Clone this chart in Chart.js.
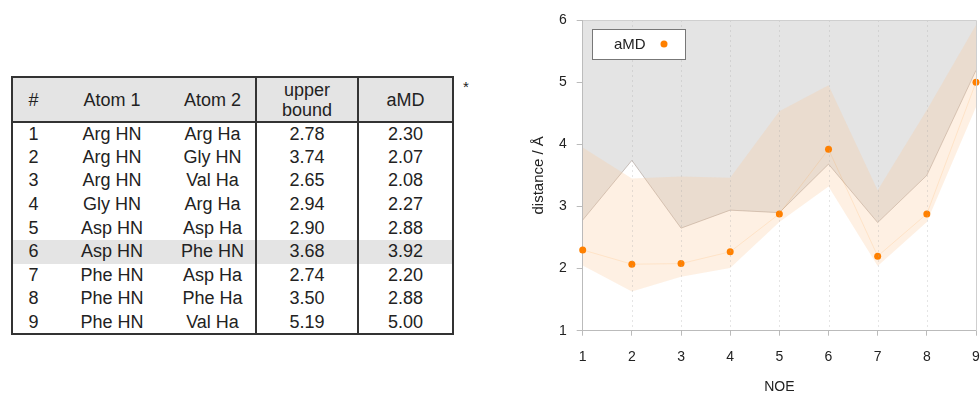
<!DOCTYPE html>
<html>
<head>
<meta charset="utf-8">
<script src="https://cdn.jsdelivr.net/npm/chart.js@4.4.1/dist/chart.umd.min.js"></script>
<style>
  html, body { margin: 0; padding: 0; background: #fff; }
  body { width: 980px; height: 396px; position: relative; overflow: hidden;
         font-family: "Liberation Sans", Arial, sans-serif; color: #222; }
  #noeTable { position: absolute; left: 11px; top: 76px; border-collapse: collapse;
              table-layout: fixed; width: 441px; font-size: 18px; border: 2px solid #333; }
  #noeTable td, #noeTable th { padding: 0; text-align: center; font-weight: normal; }
  #noeTable thead tr { height: 45px; background: #e4e4e4; border-bottom: 2px solid #333; }
  #noeTable thead th { line-height: 20px; }
  #noeTable tbody tr { height: 23.6px; }
  #noeTable tbody td { line-height: 21px; }
  #noeTable .sep { border-left: 2px solid #333; }
  #noeTable tr.hl { background: #e4e4e4; }
  #star { position: absolute; left: 463px; top: 78px; width: 10px; font-size: 15px; }
  #wrap { position: absolute; left: 500px; top: 0; width: 480px; height: 396px; }
</style>
</head>
<body>
<table id="noeTable">
  <colgroup>
    <col style="width:42px"><col style="width:116px"><col style="width:86px">
    <col style="width:102px"><col style="width:95px">
  </colgroup>
  <thead><tr><th>#</th><th>Atom 1</th><th>Atom 2</th><th class="sep">upper<br>bound</th><th class="sep">aMD</th></tr></thead>
  <tbody id="rows"></tbody>
</table>
<div id="star">*</div>
<div id="wrap"><canvas id="noe"></canvas></div>
<script>
const noe = [1, 2, 3, 4, 5, 6, 7, 8, 9];
const atom1 = ['Arg HN', 'Arg HN', 'Arg HN', 'Gly HN', 'Asp HN', 'Asp HN', 'Phe HN', 'Phe HN', 'Phe HN'];
const atom2 = ['Arg Ha', 'Gly HN', 'Val Ha', 'Arg Ha', 'Asp Ha', 'Phe HN', 'Asp Ha', 'Phe Ha', 'Val Ha'];
const upperBound = [2.78, 3.74, 2.65, 2.94, 2.90, 3.68, 2.74, 3.50, 5.19];
const amd = [2.30, 2.07, 2.08, 2.27, 2.88, 3.92, 2.20, 2.88, 5.00];
// spread of the aMD distances
const bandHigh = [3.95, 3.45, 3.48, 3.46, 4.53, 4.95, 3.26, 4.55, 5.92];
const bandLow = [2.05, 1.63, 1.87, 2.01, 2.75, 3.32, 2.04, 2.75, 4.60];
const highlightRow = 6;

// table
const tbody = document.getElementById('rows')
noe.forEach((n, i) => {
  const tr = document.createElement('tr')
  if (n === highlightRow) tr.className = 'hl'
  tr.innerHTML = '<td>' + n + '</td><td>' + atom1[i] + '</td><td>' + atom2[i] + '</td>' +
    '<td class="sep">' + upperBound[i].toFixed(2) + '</td><td class="sep">' + amd[i].toFixed(2) + '</td>'
  tbody.appendChild(tr)
})

const pts = arr => noe.map((x, i) => ({ x: x, y: arr[i] }))
const orange = '#ff8000'
const font = { size: 14, family: '"Liberation Sans", Arial' }

// plot box edges taken from the scales themselves
function plotBox(chart) {
  const xs = chart.scales.x, ys = chart.scales.y
  return {
    left: Math.round(xs.getPixelForValue(noe[0])),
    right: Math.round(xs.getPixelForValue(noe[noe.length - 1])),
    top: Math.round(ys.getPixelForValue(ys.max)),
    bottom: Math.round(ys.getPixelForValue(ys.min)),
  }
}

// faint dotted verticals at each NOE, plus the top and right edges of the box
const frame = {
  id: 'frame',
  afterDatasetsDraw(chart) {
    const { ctx } = chart
    const b = plotBox(chart)
    const xs = chart.scales.x
    ctx.save()
    ctx.lineWidth = 1
    ctx.strokeStyle = 'rgba(170,170,170,0.3)'
    ctx.setLineDash([2, 3])
    noe.slice(1, -1).forEach(v => {
      const px = Math.round(xs.getPixelForValue(v)) + 0.5
      ctx.beginPath()
      ctx.moveTo(px, b.top)
      ctx.lineTo(px, b.bottom)
      ctx.stroke()
    })
    ctx.setLineDash([])
    ctx.strokeStyle = '#cfcfcf'
    ctx.beginPath()
    ctx.moveTo(b.left, b.top + 0.5)
    ctx.lineTo(b.right + 0.5, b.top + 0.5)
    ctx.lineTo(b.right + 0.5, b.bottom)
    ctx.stroke()
    ctx.restore()
  }
}

// legend box drawn inside the plot, text first then the dot
const boxLegend = {
  id: 'boxLegend',
  afterDatasetsDraw(chart) {
    const { ctx } = chart
    const b = plotBox(chart)
    const x = b.left + 9, y = b.top + 9
    ctx.save()
    ctx.fillStyle = '#fff'
    ctx.fillRect(x, y, 93, 30)
    ctx.strokeStyle = '#777'
    ctx.lineWidth = 1
    ctx.strokeRect(x + 0.5, y + 0.5, 93, 30)
    ctx.fillStyle = '#222'
    ctx.font = '15px "Liberation Sans", Arial, sans-serif'
    ctx.textBaseline = 'middle'
    ctx.fillText(chart.data.datasets[0].label, x + 22, y + 15.5)
    ctx.fillStyle = orange
    ctx.beginPath()
    ctx.arc(x + 72, y + 15, 3.5, 0, Math.PI * 2)
    ctx.fill()
    ctx.restore()
  }
}

const cfg = {
  type: 'line',
  data: {
    datasets: [
      {
        label: 'aMD',
        data: pts(amd),
        borderColor: 'rgba(255,128,0,0.12)',
        borderWidth: 1,
        pointRadius: 3.5,
        pointBackgroundColor: orange,
        pointBorderWidth: 0,
        clip: 6,
        fill: false,
      },
      {
        label: 'high',
        data: pts(bandHigh),
        borderColor: 'transparent',
        borderWidth: 1,
        pointRadius: 0,
        backgroundColor: 'rgba(251,199,151,0.27)',
        fill: '+1',
      },
      {
        label: 'low',
        data: pts(bandLow),
        borderColor: 'transparent',
        borderWidth: 1,
        pointRadius: 0,
        fill: false,
      },
      {
        label: 'upper bound',
        data: pts(upperBound),
        borderColor: 'rgba(150,130,120,0.45)',
        borderWidth: 1,
        pointRadius: 0,
        backgroundColor: '#e4e4e4',
        fill: 'end',
      },
    ],
  },
  options: {
    responsive: true,
    maintainAspectRatio: false,
    animation: false,
    layout: { padding: { top: 20, right: 1, left: 0, bottom: 0 } },
    plugins: { legend: { display: false }, tooltip: { enabled: false } },
    scales: {
      x: {
        type: 'linear',
        min: 1, max: 9,
        ticks: { stepSize: 1, padding: 13, color: '#222', font: font },
        grid: { drawOnChartArea: false, tickColor: '#bbb', tickLength: 5 },
        border: { color: '#bbb' },
        title: { display: true, text: 'NOE', color: '#222', padding: 0, font: font },
        afterFit(s) { s.height = 65.3; s.paddingLeft = 0; s.paddingRight = 0 },
      },
      y: {
        min: 1, max: 6,
        ticks: { stepSize: 1, padding: 10, color: '#222', font: font },
        grid: { drawOnChartArea: false, tickColor: '#bbb', tickLength: 6 },
        border: { color: '#bbb' },
        title: { display: true, text: 'distance / Å', color: '#222', padding: { top: 30, bottom: 0 }, font: { size: 15, family: font.family } },
        afterFit(s) { s.width = 82.7; s.paddingTop = 0; s.paddingBottom = 0 },
      },
    },
  },
  plugins: [frame, boxLegend],
}

const noeCtx = document.getElementById('noe')
window.noeChart = new Chart(noeCtx, cfg)
</script>
</body>
</html>
